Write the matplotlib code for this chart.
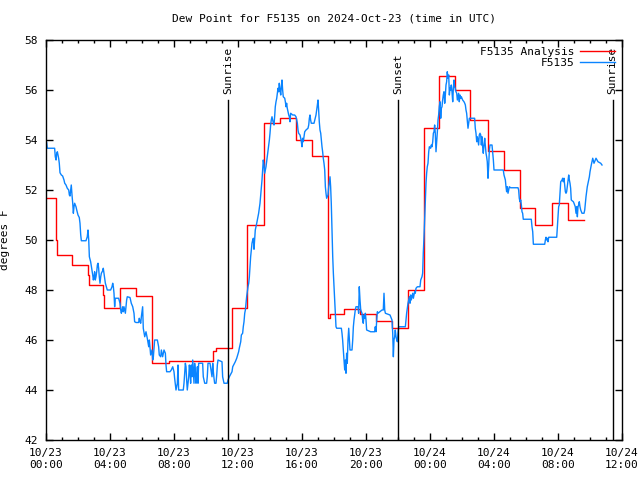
import numpy as np
import pandas as pd
import matplotlib
matplotlib.use('Agg')
import matplotlib.pyplot as plt
import matplotlib.dates as mdates

plt.rcParams['font.family'] = 'DejaVu Sans Mono'
plt.rcParams['font.size'] = 8

start = pd.Timestamp('2024-10-23 00:00')

# analysis (hourly steps): hours since 10/23 00:00 and dew point
ana_hours = [0.0, 0.6, 0.65, 0.7, 1.6, 2.6, 2.7, 3.55, 3.65, 4.6, 5.6, 6.6, 6.65, 7.7,
             10.45, 10.6, 11.6, 12.55, 13.6, 14.6, 15.6, 16.6, 17.6, 17.75, 18.6, 19.6,
             20.6, 21.6, 22.6, 23.6, 24.55, 25.55, 26.5, 27.6, 28.6, 29.6, 30.55, 31.6,
             32.65, 33.65]
ana_dewpt = [51.7, 51.1, 50.0, 49.4, 49.0, 48.6, 48.2, 47.8, 47.3, 48.1, 47.75, 46.4, 45.1, 45.15,
             45.55, 45.7, 47.3, 50.6, 54.7, 54.9, 54.0, 53.35, 46.9, 47.05, 47.25, 47.05,
             46.75, 46.5, 48.0, 54.5, 56.55, 56.0, 54.8, 53.55, 52.8, 51.3, 50.6, 51.5,
             50.8, 50.8]

# station observations
obs_hours = [0.04, 0.08, 0.54, 0.58, 0.63, 0.67, 0.71, 0.75, 0.79, 0.83, 0.875, 0.96, 1.04,
             1.125, 1.17, 1.25, 1.33, 1.42, 1.46, 1.5, 1.54, 1.58, 1.625, 1.67, 1.71, 1.75,
             1.79, 1.875, 1.92, 2.0, 2.08, 2.125, 2.17, 2.21, 2.5, 2.58, 2.625, 2.67, 2.71,
             2.79, 2.875, 2.92, 2.96, 3.0, 3.04, 3.08, 3.125, 3.17, 3.21, 3.25, 3.29, 3.33,
             3.375, 3.42, 3.46, 3.54, 3.58, 3.625, 3.71, 3.83, 4.04, 4.125, 4.17, 4.21, 4.25,
             4.29, 4.33, 4.54, 4.625, 4.67, 4.71, 4.79, 4.83, 4.875, 4.96, 5.04, 5.08, 5.25,
             5.33, 5.42, 5.5, 5.54, 5.625, 5.79, 5.83, 5.875, 5.92, 5.96, 6.04, 6.08,
             6.17, 6.25, 6.33, 6.42, 6.46, 6.54, 6.625, 6.67, 6.71, 6.79, 6.96, 7.04, 7.08,
             7.17, 7.21, 7.29, 7.375, 7.46, 7.5, 7.54, 7.75, 7.83, 7.92, 8.0, 8.04, 8.125,
             8.21, 8.25, 8.29, 8.58, 8.625, 8.67, 8.71, 8.75, 8.79, 8.83, 8.875, 8.92, 8.96,
             9.0, 9.04, 9.08, 9.125, 9.17, 9.21, 9.25, 9.29, 9.33, 9.375, 9.42, 9.46, 9.5,
             9.54, 9.79, 9.83, 9.92, 10.04, 10.08, 10.125, 10.25, 10.33, 10.375, 10.42,
             10.46, 10.5, 10.54, 10.625, 10.67, 10.71, 10.75, 11.0, 11.04, 11.125, 11.33,
             11.375, 11.46, 11.625, 11.67, 11.83, 11.92, 12.04,
             12.08, 12.17, 12.21, 12.29, 12.33, 12.375, 12.42, 12.46, 12.5, 12.54, 12.58,
             12.625, 12.67, 12.71, 12.75, 12.79, 12.83, 12.875, 12.92, 12.96, 13.0, 13.04,
             13.08, 13.125, 13.17, 13.21, 13.25, 13.29, 13.375, 13.42, 13.46, 13.5, 13.54,
             13.58, 13.625, 13.67, 13.71, 13.75, 13.79, 13.83, 13.875, 13.92, 13.96, 14.0,
             14.04, 14.08, 14.125, 14.21, 14.25, 14.29, 14.33, 14.375, 14.42, 14.46, 14.5,
             14.54, 14.58, 14.625, 14.67, 14.71, 14.75, 14.79, 14.83, 14.92, 14.96, 15.0,
             15.04, 15.08, 15.125, 15.17, 15.21, 15.25, 15.29, 15.42, 15.54, 15.625, 15.71,
             15.75, 15.79, 15.875, 15.92, 15.96, 16.0, 16.04, 16.08, 16.125, 16.17, 16.25,
             16.375, 16.42, 16.46, 16.5, 16.54, 16.58, 16.75, 16.83, 16.875, 16.92, 16.96,
             17.0, 17.04, 17.08, 17.125, 17.17, 17.21, 17.25, 17.29, 17.33, 17.375, 17.42,
             17.46, 17.5, 17.54, 17.625, 17.67, 17.71, 17.75, 17.79, 17.83,
             17.92, 17.96, 18.0, 18.04, 18.08, 18.125, 18.17, 18.46, 18.5, 18.54, 18.58,
             18.625, 18.67, 18.71, 18.75, 18.79, 18.83, 18.875, 18.92, 18.96, 19.0, 19.125,
             19.17, 19.21, 19.25, 19.29, 19.33, 19.375, 19.5, 19.54, 19.58, 19.625, 19.67,
             19.75, 19.79, 19.83, 19.875, 19.92, 19.96, 20.0, 20.04, 20.29, 20.54, 20.58,
             20.625, 20.67, 20.71, 20.75, 21.0, 21.08, 21.125, 21.17, 21.21, 21.5, 21.625,
             21.67, 21.71, 21.75, 21.79, 21.83, 21.875, 21.92, 21.96, 22.0, 22.04, 22.25,
             22.46, 22.5, 22.54, 22.58, 22.625, 22.67, 22.71, 22.75, 22.79, 22.83, 22.875,
             22.92, 22.96, 23.0, 23.04, 23.08, 23.125, 23.21, 23.375, 23.42, 23.5, 23.54,
             23.58, 23.625, 23.67, 23.71, 23.75, 23.79, 23.83, 23.875, 23.92, 23.96,
             24.04, 24.08, 24.125, 24.17, 24.21, 24.25, 24.29, 24.33, 24.375, 24.42, 24.46,
             24.5, 24.54, 24.58, 24.625, 24.67, 24.71, 24.75, 24.79, 24.83, 24.875, 24.92,
             24.96, 25.0, 25.04, 25.08, 25.125, 25.17, 25.21, 25.25, 25.29, 25.33, 25.375,
             25.42, 25.46, 25.5, 25.54, 25.58, 25.625, 25.67, 25.71, 25.75, 25.79, 25.83,
             25.875, 25.92, 25.96, 26.04, 26.125, 26.17, 26.21, 26.25, 26.29, 26.33, 26.375,
             26.42, 26.46, 26.79, 26.83, 26.875, 26.92, 26.96, 27.04, 27.08, 27.125, 27.17,
             27.21, 27.25, 27.29, 27.33, 27.375, 27.42, 27.5, 27.54, 27.58, 27.625, 27.67,
             27.71, 27.75, 27.875, 27.92, 27.96, 28.0, 28.58, 28.625, 28.71, 28.75, 28.79,
             28.83, 28.875, 28.92, 28.96, 29.04, 29.5, 29.54, 29.58, 29.625, 29.67, 29.71,
             29.75, 29.79, 29.83, 30.33, 30.375, 30.42, 30.46, 31.17, 31.21, 31.25, 31.29,
             31.33, 31.375, 31.42, 31.92, 31.96, 32.0, 32.04, 32.08, 32.125, 32.17, 32.25,
             32.29, 32.33, 32.375, 32.42, 32.46, 32.5, 32.54, 32.58, 32.625, 32.67, 32.71,
             32.75, 32.79, 32.83, 32.96, 33.0, 33.08, 33.125, 33.17, 33.21, 33.25, 33.29,
             33.33, 33.375, 33.42, 33.5, 33.625, 33.67, 33.71, 33.75, 33.79, 33.83, 33.875,
             33.92, 33.96, 34.0, 34.04, 34.08, 34.125, 34.17, 34.25, 34.33, 34.375, 34.5,
             34.67, 34.75]
obs_dewpt = [53.9, 53.67, 53.67, 53.33, 53.2, 53.47, 53.53, 53.4, 53.27, 53.07, 52.69, 52.6, 52.56,
             52.4, 52.27, 52.2, 52.07, 52.0, 51.8, 51.76, 52.0, 52.2, 51.8, 51.47, 51.07, 51.33,
             51.47, 51.33, 51.2, 51.0, 50.9, 50.67, 50.2, 49.97, 49.97, 50.13, 50.4, 50.0, 49.33,
             49.13, 48.8, 48.6, 48.4, 48.53, 48.73, 48.4, 48.53, 48.73, 49.0, 49.07, 48.87, 48.53,
             48.27, 48.53, 48.67, 48.77, 48.87, 48.67, 48.27, 48.0, 48.0, 48.13, 48.27, 48.13, 47.87,
             47.33, 47.67, 47.67, 47.47, 47.2, 47.07, 47.33, 47.13, 47.33, 47.07, 47.6, 47.73, 47.7,
             47.47, 47.33, 47.07, 46.73, 46.7, 46.7, 46.87, 46.73, 46.67, 46.93, 47.33, 46.47,
             46.13, 46.33, 46.07, 45.73, 46.0, 45.4, 45.6, 45.2, 45.33, 46.0, 46.0, 45.73, 45.4,
             45.33, 45.6, 45.33, 45.6, 45.47, 45.0, 44.73, 44.73, 44.8, 44.93, 44.73, 44.47, 44.0,
             44.27, 45.0, 44.0, 44.0, 44.27, 44.67, 45.07, 44.93, 44.4, 44.0, 44.27, 44.53, 45.0,
             44.73, 44.27, 45.0, 44.53, 45.2, 44.73, 44.27, 45.07, 44.8, 44.27, 44.53, 44.93, 44.27,
             45.07, 45.07, 44.53, 44.27, 44.27, 44.53, 45.07, 45.07, 44.73, 44.53, 45.07,
             44.73, 44.47, 44.27, 44.27, 44.6, 45.0, 45.2, 45.13, 44.53, 44.27, 44.27,
             44.4, 44.53, 44.73, 44.93, 45.13, 45.27, 45.53,
             45.67, 45.93, 46.2, 46.27, 46.53, 46.73, 47.07, 47.2, 47.47, 47.73, 47.93,
             48.13, 48.27, 48.53, 48.93, 49.33, 49.6, 49.87, 50.0, 50.07, 49.63, 50.0,
             50.4, 50.53, 50.67, 50.8, 50.93, 51.07, 51.47, 51.8, 52.13, 52.4, 52.8,
             53.2, 53.0, 52.67, 52.8, 52.93, 53.13, 53.33, 53.53, 53.8, 54.0, 54.27,
             54.6, 54.8, 54.93, 54.67, 54.6, 54.93, 55.33, 55.53, 55.67, 55.87, 56.07,
             55.93, 56.27, 56.0, 55.8, 56.13, 56.4, 56.0, 55.73, 55.67, 55.53, 55.33,
             55.47, 55.27, 55.13, 55.0, 54.93, 54.73, 55.07, 55.0, 55.0, 54.93, 54.67,
             54.4, 54.27, 54.2, 54.07, 53.93, 53.73, 54.07, 53.93, 54.13, 54.33, 54.4,
             54.47, 54.6, 54.87, 55.0, 54.8, 54.67, 54.67, 54.87, 55.0, 55.2, 55.4,
             55.6, 55.2, 54.73, 54.4, 54.27, 54.0, 53.73, 53.53, 53.27, 53.07, 52.8,
             52.13, 51.87, 51.67, 51.8, 52.13, 52.33, 52.53, 52.13, 51.47,
             49.33, 48.67, 48.13, 47.6, 47.07, 46.53, 46.47, 46.47, 46.27, 46.0, 45.6,
             45.2, 44.8, 45.2, 44.67, 45.47, 45.07, 46.0, 46.47, 46.0, 45.6, 45.6,
             46.0, 46.53, 46.8, 47.0, 47.2, 47.33, 47.33, 47.07, 48.13, 47.6, 47.2,
             47.07, 46.8, 46.67, 47.0, 46.87, 47.07, 46.8, 46.4, 46.33, 46.33, 46.53,
             46.33, 46.8, 47.13, 47.07, 47.2, 47.2, 47.87, 47.2, 47.07, 47.0, 46.8,
             46.27, 45.33, 46.0, 46.13, 46.4, 46.13, 46.0, 45.93, 46.27, 46.53, 46.53,
             46.53, 46.8, 47.07, 47.27, 47.47, 47.6, 47.73, 47.47, 47.8, 47.6, 47.73,
             47.87, 47.67, 47.8, 47.93, 47.87, 48.07, 48.13, 48.13, 48.4, 48.53, 48.67,
             49.47, 50.13, 50.93, 51.6, 52.27, 52.67, 52.93, 53.07, 53.53, 53.73,
             53.67, 53.8, 53.73, 53.93, 54.27, 54.33, 54.6, 54.27, 53.53, 53.93, 54.33,
             54.8, 55.0, 55.33, 55.53, 54.87, 55.27, 55.33, 55.6, 55.8, 55.93, 55.47,
             55.8, 56.2, 56.33, 56.73, 56.47, 56.6, 55.8, 56.07, 56.0, 56.2, 55.93,
             55.53, 56.07, 56.4, 56.13, 56.07, 55.93, 55.87, 55.6, 55.73, 55.87, 55.53,
             55.8, 55.67, 55.73, 55.6, 55.53, 55.47, 55.4, 55.2, 55.07, 54.8, 54.47,
             54.67, 54.87, 54.87, 54.47, 54.27, 53.93, 54.13, 53.8, 54.2, 54.27, 54.2,
             53.8, 54.13, 53.73, 53.47, 53.8, 54.07, 53.47, 53.33, 53.13, 52.47, 53.0,
             53.6, 53.8, 53.8, 53.47, 53.2, 52.8, 52.8, 52.6, 52.4, 52.13, 51.93,
             52.13, 51.87, 52.0, 52.13, 52.09, 52.09, 52.0, 51.67, 51.53, 51.6, 51.4,
             51.13, 51.07, 50.83, 50.83, 50.53, 50.33, 49.83, 49.83, 50.0, 50.11, 50.0,
             50.07, 49.93, 50.11, 50.11, 50.53, 50.93, 51.33, 51.4, 51.87, 52.33, 52.4,
             52.47, 52.33, 52.47, 52.2, 51.93, 51.87, 51.93, 52.13, 52.33, 52.6, 52.4,
             52.27, 52.07, 51.6, 51.53, 51.47, 51.33, 51.07, 51.33, 50.93, 51.33, 51.4,
             51.53, 51.33, 51.2, 51.07, 51.07, 51.2, 51.47, 51.73, 51.93, 52.13, 52.27,
             52.4, 52.53, 52.73, 52.87, 53.0, 53.13, 53.27, 53.07, 53.2, 53.27, 53.13,
             53.07, 53.0]

sun_hours = [11.375, 22.02, 35.42]
sun_labels = ['Sunrise', 'Sunset', 'Sunrise']

ana_t = start + pd.to_timedelta(ana_hours, unit='h')
obs_t = start + pd.to_timedelta(obs_hours, unit='h')

fig = plt.figure(figsize=(6.4, 4.8), dpi=100)
ax = fig.add_axes([46 / 640, 40 / 480, 576 / 640, 400 / 480])

ax.plot(ana_t, ana_dewpt, color='#ff0000', lw=1.0, drawstyle='steps-post', label='F5135 Analysis')
ax.plot(obs_t, obs_dewpt, color='#0a84ff', lw=1.0, label='F5135')

for h, lab in zip(sun_hours, sun_labels):
    t = start + pd.Timedelta(hours=h)
    ax.plot([t, t], [42, 55.6], color='black', lw=1.0)
    ax.text(t, 55.85, lab, rotation=90, ha='center', va='bottom', fontsize=8)

ax.set_xlim(start, start + pd.Timedelta(hours=36))
ax.set_ylim(42, 58)
ax.set_yticks(np.arange(42, 59, 2))
ax.xaxis.set_major_locator(mdates.HourLocator(byhour=[0, 4, 8, 12, 16, 20]))
ax.xaxis.set_minor_locator(mdates.HourLocator())
ax.xaxis.set_major_formatter(mdates.DateFormatter('%m/%d\n%H:%M'))

ax.tick_params(which='major', direction='in', length=5, width=1, top=True, right=True, labelsize=8, pad=6)
ax.tick_params(which='minor', direction='in', length=2.5, width=1, top=True, right=False)
for s in ax.spines.values():
    s.set_linewidth(1.0)

ax.set_ylabel('degrees F', fontsize=8)
ax.yaxis.set_label_coords(-0.062, 0.5)
ax.set_title('Dew Point for F5135 on 2024-Oct-23 (time in UTC)', fontsize=8, pad=13)

ax.legend(loc='upper right', frameon=False, markerfirst=False, fontsize=8,
          handlelength=3.2, handletextpad=0.5, borderaxespad=0.2, labelspacing=0.1)

plt.savefig('out.png', dpi=100)
